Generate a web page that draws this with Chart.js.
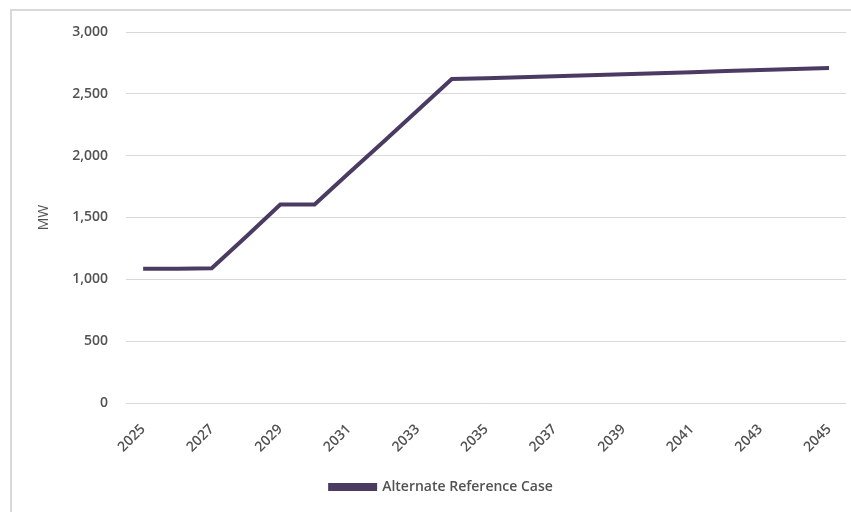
<!DOCTYPE html>
<html>
<head>
<meta charset="utf-8">
<script src="https://cdn.jsdelivr.net/npm/chart.js@4.4.1/dist/chart.umd.min.js"></script>
<style>
  html, body { margin: 0; padding: 0; width: 851px; height: 512px; overflow: hidden; background: #ffffff; }
  #frame { position: absolute; left: 10px; top: 9px; width: 860px; height: 520px; border: 2px solid #d9d9d9; box-sizing: border-box; }
  #wrap { position: absolute; left: 0; top: 0; width: 851px; height: 512px; }
</style>
</head>
<body>
<div id="frame"></div>
<div id="wrap"><canvas id="c" width="851" height="512"></canvas></div>
<script>
const years = ['2025','2026','2027','2028','2029','2030','2031','2032','2033','2034','2035','2036','2037','2038','2039','2040','2041','2042','2043','2044','2045'];
const altReferenceCase = [1085, 1085, 1090, 1345, 1605, 1605, 1860, 2110, 2365, 2620, 2627, 2635, 2643, 2651, 2659, 2667, 2675, 2684, 2692, 2700, 2708];
const seriesName = 'Alternate Reference Case';
const yAxisTitle = 'MW';
const yTicks = [0, 500, 1000, 1500, 2000, 2500, 3000];

const lineColor = '#4b3b63';
const textColor = '#525252';
const fontFamily = '"Open Sans", "Liberation Sans", sans-serif';

new Chart(document.getElementById('c'), {
  type: 'line',
  data: {
    labels: years,
    datasets: [{
      label: seriesName,
      data: altReferenceCase,
      borderColor: lineColor,
      backgroundColor: lineColor,
      borderWidth: 4,
      pointRadius: 0,
      tension: 0,
      fill: false
    }]
  },
  options: {
    responsive: false,
    animation: false,
    layout: { padding: { left: 36, right: 4, top: 32, bottom: 8 } },
    plugins: {
      legend: {
        position: 'bottom',
        labels: {
          color: textColor,
          font: { family: fontFamily, size: 14, weight: '600' },
          boxWidth: 45,
          boxHeight: 4,
          padding: 10
        }
      },
      tooltip: { enabled: false }
    },
    scales: {
      x: {
        offset: true,
        grid: { display: false },
        border: { display: false },
        ticks: {
          color: textColor,
          font: { family: fontFamily, size: 14, weight: '600' },
          minRotation: 45,
          maxRotation: 45,
          autoSkip: false,
          padding: 10,
          callback: function(v, i) { return i % 2 === 0 ? years[i] : ''; }
        },
        afterFit: function(s) { s.height = 67; }
      },
      y: {
        min: 0,
        max: 3000,
        afterBuildTicks: function(s) { s.ticks = yTicks.map(v => ({ value: v })); },
        grid: { color: '#d9d9d9', lineWidth: 1, drawTicks: false },
        border: { display: false },
        ticks: {
          color: textColor,
          font: { family: fontFamily, size: 14, weight: '600' },
          padding: 18,
          callback: function(v) { return v.toLocaleString('en-US'); }
        },
        title: {
          display: true,
          text: yAxisTitle,
          color: textColor,
          font: { family: fontFamily, size: 14 },
          padding: 0
        },
        afterFit: function(s) { s.width = 90; }
      }
    }
  }
});
</script>
</body>
</html>
